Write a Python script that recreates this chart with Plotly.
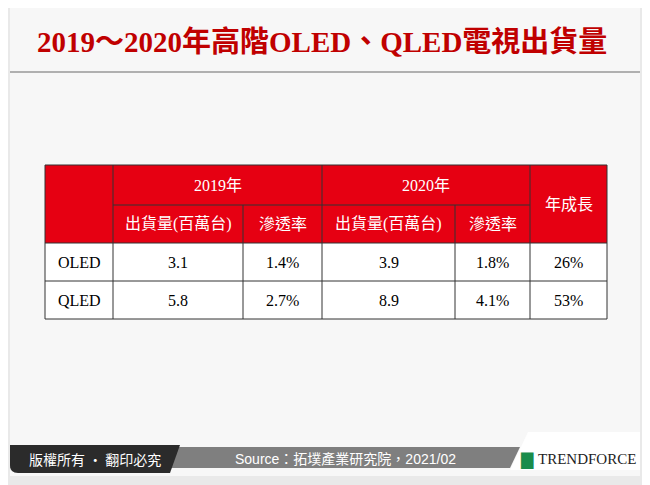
import plotly.graph_objects as go

title = "2019～2020年高階OLED、QLED電視出貨量"
years = ["2019年", "2020年"]
sub_headers = ["出貨量(百萬台)", "滲透率", "出貨量(百萬台)", "滲透率"]
growth_header = "年成長"
categories = ["OLED", "QLED"]
ship_2019 = ["3.1", "5.8"]
pen_2019 = ["1.4%", "2.7%"]
ship_2020 = ["3.9", "8.9"]
pen_2020 = ["1.8%", "4.1%"]
growth = ["26%", "53%"]
source = "Source：拓墣產業研究院，2021/02"
copyright_txt = "版權所有 · 翻印必究"

RED = "#e60012"
SERIF = "Liberation Serif, Noto Sans CJK TC"
fig = go.Figure()
shapes = []
ann = []

def rect(x0, y0, x1, y1, fill, line=None, lw=0):
    shapes.append(dict(type="rect", x0=x0, y0=y0, x1=x1, y1=y1, fillcolor=fill,
                       line=dict(color=line or fill, width=lw), layer="below"))

def text(x, y, s, size=14, color="black", font=SERIF, xanchor="center"):
    ann.append(dict(x=x, y=y, text=s, showarrow=False, xanchor=xanchor, yanchor="middle",
                    font=dict(size=size, color=color, family=font)))

rect(0, 0, 650, 485, "#e9e9e9")
rect(10, 8, 640, 476, "#f7f7f7")
shapes.append(dict(type="line", x0=10, x1=640, y0=72, y1=72, line=dict(color="#b0b0b0", width=2)))
text(322, 42, "<b>" + title + "</b>", size=29, color="#c00000")

xs = [45, 113, 243, 322, 455, 530, 607]
ys = [165, 205, 243, 281, 319]
rect(xs[0], ys[0], xs[-1], ys[2], RED)
rect(xs[0], ys[2], xs[-1], ys[4], "white")
lc = "#333333"
def line(x0, y0, x1, y1):
    shapes.append(dict(type="line", x0=x0, y0=y0, x1=x1, y1=y1, line=dict(color=lc, width=1)))
line(xs[0], ys[0], xs[-1], ys[0])
line(xs[1], ys[1], xs[5], ys[1])
for y in ys[2:]:
    line(xs[0], y, xs[-1], y)
for i in [0, 1, 3, 5, 6]:
    line(xs[i], ys[0], xs[i], ys[4])
for i in [2, 4]:
    line(xs[i], ys[1], xs[i], ys[4])

text((xs[1] + xs[3]) / 2, (ys[0] + ys[1]) / 2, years[0], 16, "white")
text((xs[3] + xs[5]) / 2, (ys[0] + ys[1]) / 2, years[1], 16, "white")
for i, s in enumerate(sub_headers):
    text((xs[i + 1] + xs[i + 2]) / 2, (ys[1] + ys[2]) / 2, s, 16, "white")
text((xs[5] + xs[6]) / 2, (ys[0] + ys[2]) / 2, growth_header, 16, "white")

cols = [categories, ship_2019, pen_2019, ship_2020, pen_2020, growth]
for r in range(len(categories)):
    yc = (ys[2 + r] + ys[3 + r]) / 2
    for c, col in enumerate(cols):
        text((xs[c] + xs[c + 1]) / 2, yc, col[r], 16)

shapes.append(dict(type="path", path="M 10 447 L 520 447 L 510 468 L 10 468 Z",
                   fillcolor="#7f7f7f", line=dict(width=0), layer="below"))
shapes.append(dict(type="path", path="M 10 445 L 180 445 L 170 473 L 18 473 Q 10 473 10 465 Z",
                   fillcolor="#2b2b2b", line=dict(width=0), layer="below"))
shapes.append(dict(type="path", path="M 528 432 L 640 432 L 640 470 L 510 470 Z",
                   fillcolor="white", line=dict(width=0), layer="below"))
text(95, 459, copyright_txt, 14, "white", "Noto Sans CJK TC")
text(345, 459, source, 14, "white", "Liberation Sans, Noto Sans CJK TC")
text(518, 459, "<b>▇</b>", 16, "#1a8c4a", "DejaVu Sans", xanchor="left")
text(536, 459, "TRENDFORCE", 15, "#222222", "Liberation Serif", xanchor="left")

fig.update_layout(width=642, height=477, margin=dict(l=0, r=0, t=0, b=0),
                  paper_bgcolor="#e9e9e9", plot_bgcolor="#e9e9e9",
                  xaxis=dict(range=[8, 650], visible=False, fixedrange=True),
                  yaxis=dict(range=[485, 8], visible=False, fixedrange=True),
                  shapes=shapes, annotations=ann, showlegend=False)
fig.write_html("out.html")
